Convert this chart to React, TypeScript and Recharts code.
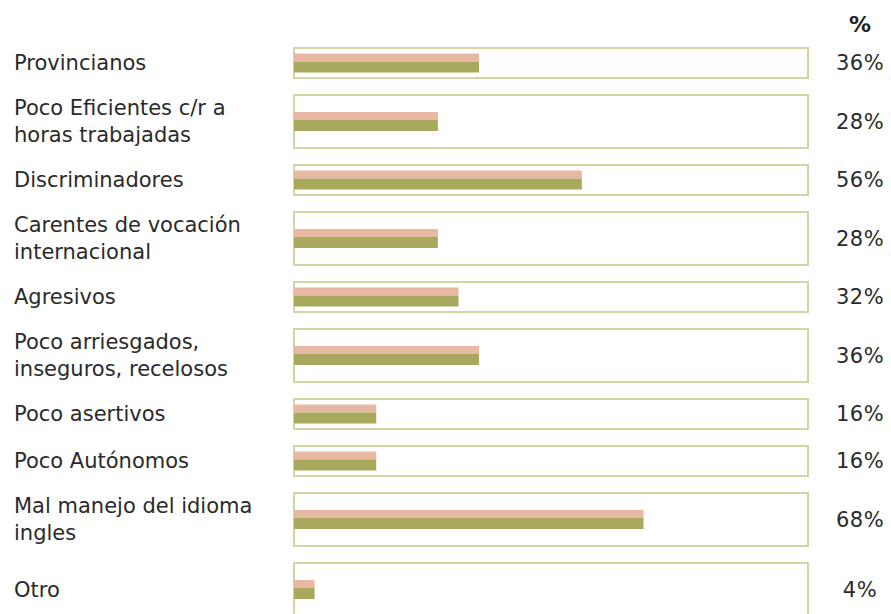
import { BarChart, Bar, XAxis, YAxis, ReferenceArea } from "recharts";

const labels = [
  ["Provincianos"],
  ["Poco Eficientes c/r a", "horas trabajadas"],
  ["Discriminadores"],
  ["Carentes de vocación", "internacional"],
  ["Agresivos"],
  ["Poco arriesgados,", "inseguros, recelosos"],
  ["Poco asertivos"],
  ["Poco Autónomos"],
  ["Mal manejo del idioma", "ingles"],
  ["Otro"],
];
const values = [36, 28, 56, 28, 32, 36, 16, 16, 68, 4];
// how many text lines of room each row gets
const spans = [1, 2, 1, 2, 1, 2, 1, 1, 2, 2];

const BOX = 30;
const EXTRA = 23;
const GAP = 17;

let cursor = 0;
const rows = labels.map((lines, i) => {
  const h = BOX + EXTRA * (spans[i] - 1);
  const row = {
    name: lines.join(" "),
    lines,
    value: values[i],
    top: cursor,
    bottom: cursor + h,
    mid: cursor + h / 2,
  };
  cursor += h + GAP;
  return row;
});

const FONT = "DejaVu Sans";

const StripeBar = (props: any) => {
  const { x, y, width, height } = props;
  if (!width) return null;
  const pink = Math.round(height * 0.42);
  return (
    <g>
      <rect x={x} y={y} width={width} height={pink} fill="#e7b9a3" />
      <rect x={x} y={y + pink} width={width} height={height - pink} fill="#a9a95d" />
    </g>
  );
};

const LabelTick = ({ y, payload }: any) => {
  const row = rows.find((r) => r.mid === payload.value);
  if (!row) return null;
  const n = row.lines.length;
  return (
    <text fontSize={21} fontFamily={FONT} fill="#2a2a2a">
      {row.lines.map((l, i) => (
        <tspan key={i} x={6} y={y + (i - (n - 1) / 2) * 27} dominantBaseline="central">
          {l}
        </tspan>
      ))}
    </text>
  );
};

const PctTick = ({ y, payload }: any) => {
  const row = rows.find((r) => r.mid === payload.value);
  if (!row) return null;
  return (
    <text
      x={852}
      y={y}
      textAnchor="middle"
      dominantBaseline="central"
      fontSize={21}
      letterSpacing={0.5}
      fontFamily={FONT}
      fill="#2a2a2a"
    >
      {row.value}%
    </text>
  );
};

export default function App() {
  return (
    <div style={{ position: "relative", width: 883, height: 606 }}>
      <div
        style={{
          position: "absolute",
          left: 836,
          top: 4,
          width: 32,
          textAlign: "center",
          fontFamily: FONT,
          fontWeight: "bold",
          fontSize: 22,
          color: "#222",
        }}
      >
        %
      </div>
      <BarChart
        width={883}
        height={606}
        data={rows}
        layout="vertical"
        margin={{ top: 40, right: 0, bottom: 0, left: 0 }}
      >
        <XAxis type="number" domain={[0, 100]} hide />
        <YAxis
          yAxisId="left"
          type="number"
          dataKey="mid"
          domain={[0, 566]}
          ticks={rows.map((r) => r.mid)}
          interval={0}
          width={286}
          axisLine={false}
          tickLine={false}
          tick={<LabelTick />}
        />
        <YAxis
          yAxisId="right"
          orientation="right"
          type="number"
          dataKey="mid"
          domain={[0, 566]}
          ticks={rows.map((r) => r.mid)}
          interval={0}
          width={83}
          axisLine={false}
          tickLine={false}
          tick={<PctTick />}
        />
        {rows.map((r) => (
          <ReferenceArea
            key={r.name}
            yAxisId="left"
            x1={0}
            x2={100}
            y1={r.top}
            y2={r.bottom}
            fill="none"
            stroke="#d4d4a6"
            strokeWidth={2}
            ifOverflow="visible"
          />
        ))}
        <Bar
          yAxisId="left"
          dataKey="value"
          barSize={19}
          shape={<StripeBar />}
          isAnimationActive={false}
        />
      </BarChart>
    </div>
  );
}
